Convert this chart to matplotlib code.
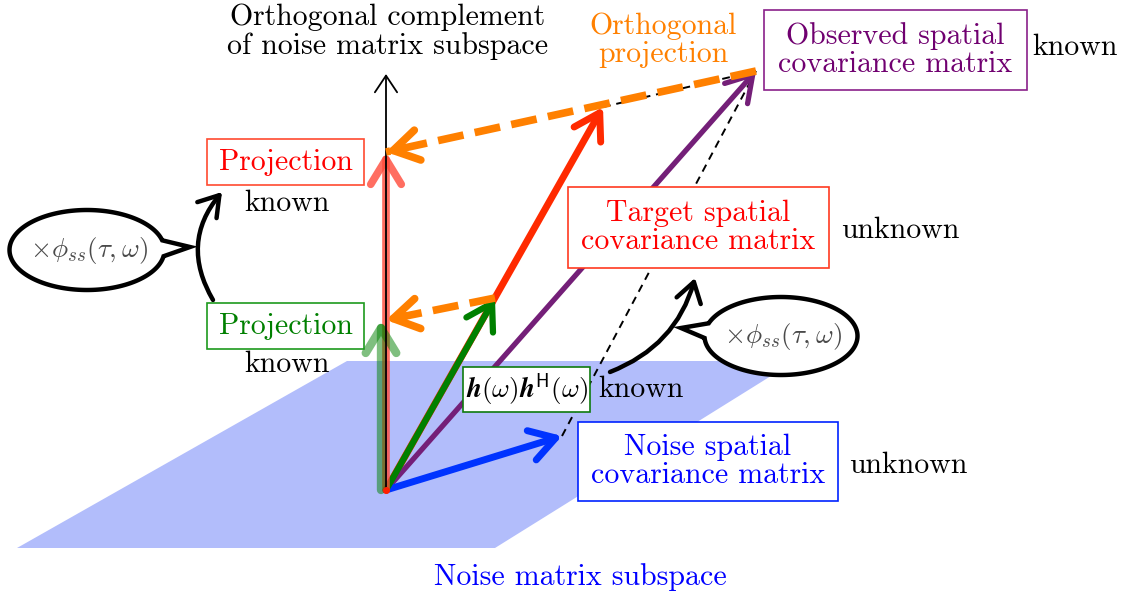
import numpy as np
import matplotlib.pyplot as plt
from matplotlib.patches import FancyArrowPatch, Polygon, Rectangle

plt.rcParams['font.family'] = 'cmr10'
plt.rcParams['mathtext.fontset'] = 'cm'
plt.rcParams['axes.formatter.use_mathtext'] = True

############################################################
# Geometry of the sketch (picture pixels, y pointing down)

origin = (386, 490)
axis_tip = (386, 74)
noise_tip = (562, 436)
steering_tip = (495, 298)
target_tip = (603, 107)
observed_tip = (756, 71)
proj_target_tip = (386, 152)
proj_steering_tip = (381, 320)

plane_x = [17, 495, 795, 347]
plane_y = [548, 548, 361, 361]

# label boxes: text, colour, box (x0, y0, x1, y1), status word and its position
box_text = ['Projection', 'Projection', 'Target spatial\ncovariance matrix',
            'Observed spatial\ncovariance matrix', 'Noise spatial\ncovariance matrix',
            r'$\mathbfit{h}(\omega)\mathbfit{h}^{\mathsf{H}}(\omega)$']
box_color = ['#ff0000', '#008000', '#ff0000', '#700070', '#0000ff', '#000000']
box_edge = ['#ff4a30', '#1e9a1e', '#ff3a20', '#8a208a', '#0022ff', '#0e7a0e']
box_ext = [(207, 139, 364, 185), (207, 303, 364, 349), (568, 187, 829, 268),
           (764, 10, 1027, 90), (578, 422, 838, 501), (463, 367, 590, 412)]
box_fs = [21.5, 21.5, 21.5, 21.5, 21.5, 19.5]
status = ['known', 'known', 'unknown', 'known', 'unknown', 'known']
status_xy = [(287, 203), (287, 364), (900, 230), (1075, 47), (908, 465), (641, 389)]

FS = 21.5

############################################################
# Plotting

fig = plt.figure(figsize=(11.41, 6.01), dpi=100)
ax = fig.add_axes([0, 0, 1, 1])
ax.set_xlim(0, 1141)
ax.set_ylim(601, 0)
ax.axis('off')


def arrow(p, q, color, lw, hl=0.9, hw=0.55, alpha=1.0, z=3, scale=20, cs='arc3'):
    a = FancyArrowPatch(p, q, arrowstyle='->,head_length=%g,head_width=%g' % (hl, hw),
                        mutation_scale=scale, lw=lw, color=color, alpha=alpha,
                        shrinkA=0, shrinkB=0, capstyle='round', joinstyle='round',
                        connectionstyle=cs, zorder=z)
    ax.add_patch(a)


def callout(cx, cy, w, h, tip, t0, t1):
    t = np.radians(np.linspace(t0, t1, 200))
    pts = list(zip(cx + w / 2 * np.cos(t), cy + h / 2 * np.sin(t))) + [tip]
    ax.add_patch(Polygon(pts, closed=True, fc='white', ec='black', lw=3.2,
                         joinstyle='miter', zorder=6))
    ax.text(cx + 2, cy + 1, r'$\times\phi_{ss}(\tau,\omega)$', color='#4a4a4a',
            fontsize=19.5, ha='center', va='center', zorder=7)


# noise subspace plane
ax.add_patch(Polygon(list(zip(plane_x, plane_y)), closed=True, fc='#b2bdfb', ec='none', zorder=0))

# thin black dashed helper lines
ax.plot([noise_tip[0], observed_tip[0]], [noise_tip[1], observed_tip[1]], color='black',
        lw=1.4, dashes=(4, 3), zorder=1)
ax.plot([target_tip[0], observed_tip[0]], [target_tip[1], observed_tip[1]], color='black',
        lw=1.4, dashes=(4, 3), zorder=1)

# vectors
arrow(origin, target_tip, '#ff2a00', 5.0, z=3)
arrow(origin, observed_tip, '#741f78', 3.8, z=3)
arrow(origin, noise_tip, '#0033ff', 5.0, z=3)
arrow(origin, steering_tip, '#008000', 4.5, z=4)
arrow(origin, proj_target_tip, '#ff4a3a', 5.5, alpha=0.8, z=4)
arrow((proj_steering_tip[0], origin[1]), proj_steering_tip, '#008000', 6.0, alpha=0.5, z=4)
ax.plot([origin[0]], [origin[1]], 'o', color='#ff2000', ms=4, zorder=5)

# orthogonal complement axis (drawn over the projected vectors)
arrow(origin, axis_tip, 'black', 1.3, hl=0.6, hw=0.4, z=4.5)

# orthogonal projections (orange dashed)
for p, q in [(observed_tip, proj_target_tip), (steering_tip, (386, 320))]:
    ax.plot([p[0], q[0]], [p[1], q[1]], color='#ff8000', lw=5.5, dashes=(3.4, 1.5),
            solid_capstyle='butt', zorder=5)
    d = np.array(p, float) - np.array(q, float)
    s = np.array(q, float) + 20 * d / np.hypot(*d)
    arrow(tuple(s), q, '#ff8000', 5.5, z=5)

# boxes and status words
for txt, c, ec, e, fs, st, sxy in zip(box_text, box_color, box_edge, box_ext, box_fs,
                                      status, status_xy):
    ax.add_patch(Rectangle((e[0], e[1]), e[2] - e[0], e[3] - e[1], fc='white', ec=ec,
                           lw=1.2, zorder=8))
    ax.text((e[0] + e[2]) / 2, (e[1] + e[3]) / 2, txt, color=c, fontsize=fs,
            ha='center', va='center', linespacing=1.05, zorder=9)
    ax.text(sxy[0], sxy[1], st, color='black', fontsize=FS, ha='center', va='center', zorder=9)

# free labels
ax.text(388, 32, 'Orthogonal complement\nof noise matrix subspace', fontsize=FS,
        ha='center', va='center', linespacing=1.05)
ax.text(663, 40, 'Orthogonal\nprojection', color='#ff8000', fontsize=FS,
        ha='center', va='center', linespacing=1.05)
ax.text(580, 577, 'Noise matrix subspace', color='#0000ff', fontsize=FS,
        ha='center', va='center')

# speech bubbles with curved arrows
callout(87, 250, 155, 80, (190, 247), 9, 346)
arrow((213, 300), (222, 192), 'black', 3.2, hl=0.7, hw=0.45, z=6, cs='arc3,rad=-0.35')
callout(781, 336, 153, 78, (681, 328), 199, 537)
arrow((610, 372), (695, 278), 'black', 3.2, hl=0.7, hw=0.45, z=6, cs='arc3,rad=0.25')

fig.savefig('out.png', dpi=100)
